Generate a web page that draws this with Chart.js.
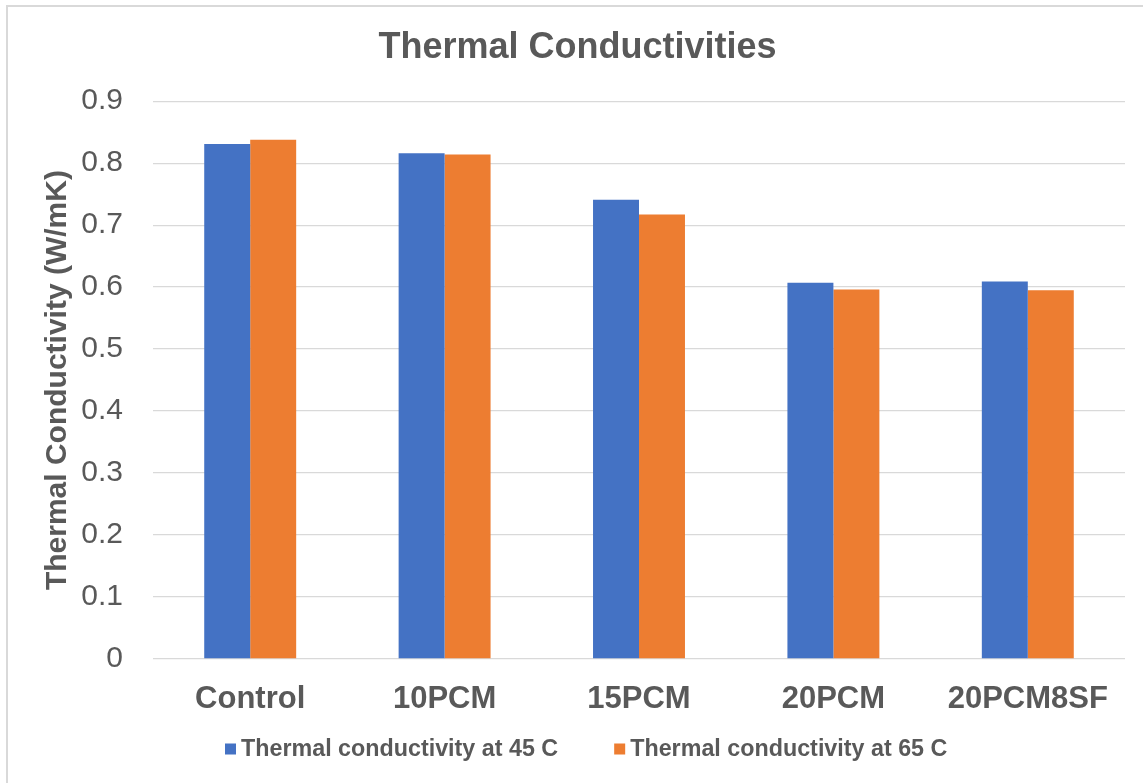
<!DOCTYPE html>
<html>
<head>
<meta charset="utf-8">
<title>Thermal Conductivities</title>
<script src="https://cdn.jsdelivr.net/npm/chart.js@4.4.1/dist/chart.umd.min.js"></script>
<style>
  html, body { margin: 0; padding: 0; background: #ffffff; }
  #wrap { width: 1143px; height: 783px; }
</style>
</head>
<body>
<div id="wrap"><canvas id="chart" width="1143" height="783"></canvas></div>
<script>
// Samples and measured thermal conductivity (W/mK)
const categories = ['Control', '10PCM', '15PCM', '20PCM', '20PCM8SF'];
const k45 = [0.831, 0.816, 0.741, 0.607, 0.609];
const k65 = [0.838, 0.814, 0.717, 0.596, 0.595];
const seriesNames = ['Thermal conductivity at 45 C', 'Thermal conductivity at 65 C'];
const tickLabels = ['0', '0.1', '0.2', '0.3', '0.4', '0.5', '0.6', '0.7', '0.8', '0.9'];

const TEXT = '#595959';
const GRID = '#D9D9D9';
const FONT = "'Liberation Sans', Arial, Helvetica, sans-serif";

// Light frame around the whole chart
const framePlugin = {
  id: 'frame',
  beforeDraw(chart) {
    const ctx = chart.ctx;
    ctx.save();
    ctx.fillStyle = '#ffffff';
    ctx.fillRect(0, 0, chart.width, chart.height);
    ctx.strokeStyle = GRID;
    ctx.lineWidth = 2;
    ctx.strokeRect(7, 6, chart.width + 20, chart.height + 20);
    ctx.restore();
  }
};

// Bottom legend: square swatch followed by bold label, items in one row
const legendPlugin = {
  id: 'bottomLegend',
  afterDraw(chart, args, opts) {
    const ctx = chart.ctx;
    ctx.save();
    ctx.font = 'bold ' + opts.fontSize + 'px ' + FONT;
    ctx.textBaseline = 'middle';
    let x = opts.left;
    chart.data.datasets.forEach((ds) => {
      ctx.fillStyle = ds.backgroundColor;
      ctx.fillRect(x, opts.centerY - opts.box / 2, opts.box, opts.box);
      x += opts.box + opts.textGap;
      ctx.fillStyle = TEXT;
      ctx.fillText(ds.label, x, opts.centerY + 1);
      x += ctx.measureText(ds.label).width + opts.itemGap;
    });
    ctx.restore();
  }
};

new Chart(document.getElementById('chart'), {
  type: 'bar',
  data: {
    labels: categories,
    datasets: [
      { label: seriesNames[0], data: k45, backgroundColor: '#4472C4' },
      { label: seriesNames[1], data: k65, backgroundColor: '#ED7D31' }
    ]
  },
  options: {
    responsive: false,
    animation: false,
    devicePixelRatio: 1,
    layout: { padding: { top: 0, left: 30, right: 18, bottom: 0 } },
    datasets: {
      bar: { categoryPercentage: 0.473, barPercentage: 1.0 }
    },
    plugins: {
      legend: { display: false },
      tooltip: { enabled: false },
      title: {
        display: true,
        text: 'Thermal Conductivities',
        color: TEXT,
        font: { family: FONT, size: 36, weight: 'bold', lineHeight: 1.2 },
        padding: { top: 26, bottom: 32 }
      },
      bottomLegend: {
        fontSize: 23.3,
        left: 225,
        centerY: 749,
        box: 11,
        textGap: 5,
        itemGap: 56
      }
    },
    scales: {
      x: {
        grid: { display: false },
        border: { display: false },
        ticks: {
          color: TEXT,
          padding: 14,
          font: { family: FONT, size: 31, weight: 'bold' }
        },
        afterFit(scale) { scale.height = 124; }
      },
      y: {
        min: 0,
        max: 0.9,
        grid: { color: GRID, lineWidth: 1.3, drawTicks: false },
        border: { display: false },
        ticks: {
          stepSize: 0.1,
          color: TEXT,
          padding: 30,
          font: { family: FONT, size: 30 },
          callback: (v, i) => tickLabels[i]
        },
        title: {
          display: true,
          text: 'Thermal Conductivity (W/mK)',
          color: TEXT,
          font: { family: FONT, size: 30, weight: 'bold', lineHeight: 1.2 },
          padding: { top: 10, bottom: 0 }
        },
        afterFit(scale) { scale.width = 123; }
      }
    }
  },
  plugins: [framePlugin, legendPlugin]
});
</script>
</body>
</html>
